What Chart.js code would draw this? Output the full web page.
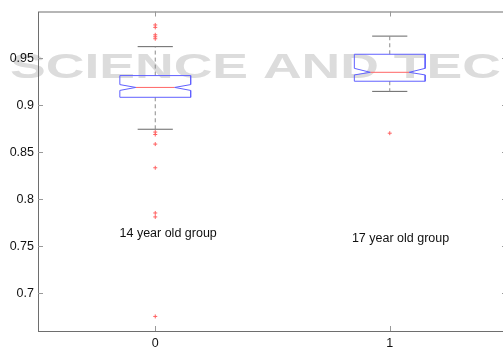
<!DOCTYPE html>
<html>
<head>
<meta charset="utf-8">
<script src="https://cdn.jsdelivr.net/npm/chart.js@4.4.1/dist/chart.umd.min.js"></script>
<style>
  html, body { margin: 0; padding: 0; background: #fff; overflow: hidden; }
  #wrap { width: 512px; height: 347px; }
</style>
</head>
<body>
<div id="wrap"><canvas id="boxChart" width="512" height="347"></canvas></div>
<script>
// group positions on the x axis and their notes
const groups = [0, 1];
const groupLabels = ["14 year old group", "17 year old group"];

// box statistics per group
const whiskerLow = [0.8747, 0.9150];
const q1 = [0.9087, 0.9258];
const notchLow = [0.9160, 0.9325];
const median = [0.9192, 0.9353];
const notchHigh = [0.9222, 0.9395];
const q3 = [0.9318, 0.9545];
const whiskerHigh = [0.9626, 0.9738];

// outliers per group
const outliers14 = [0.9857, 0.9831, 0.9752, 0.9731, 0.9710, 0.8717, 0.8691, 0.8589, 0.8337, 0.7856, 0.7814, 0.6755];
const outliers17 = [0.8705];

// axes
const xTicks = [0, 1];
const yTicks = [0.7, 0.75, 0.8, 0.85, 0.9, 0.95];

// where the group notes sit (data units)
const noteX = [0.055, 1.046];
const noteY = [0.7638, 0.7585];

const BOX_HALF = 0.151;
const NOTCH_HALF = 0.083;
const CAP_HALF = 0.075;
const FONT = "'Liberation Sans', Arial, Helvetica, sans-serif";

function line(points, color, dash, width) {
    return {
        type: "line",
        data: points,
        borderColor: color,
        borderWidth: width || 1,
        borderDash: dash || [],
        pointRadius: 0,
        fill: false,
        tension: 0,
    };
}

// build the drawn pieces for one group from the arrays above
function groupDatasets(i, outs) {
    const x = groups[i];
    const sets = [];
    // notched box outline
    sets.push(line([
        { x: x - BOX_HALF, y: q3[i] },
        { x: x + BOX_HALF, y: q3[i] },
        { x: x + BOX_HALF, y: notchHigh[i] },
        { x: x + NOTCH_HALF, y: median[i] },
        { x: x + BOX_HALF, y: notchLow[i] },
        { x: x + BOX_HALF, y: q1[i] },
        { x: x - BOX_HALF, y: q1[i] },
        { x: x - BOX_HALF, y: notchLow[i] },
        { x: x - NOTCH_HALF, y: median[i] },
        { x: x - BOX_HALF, y: notchHigh[i] },
        { x: x - BOX_HALF, y: q3[i] },
    ], "#6060ff"));
    // median
    sets.push(line([
        { x: x - NOTCH_HALF, y: median[i] },
        { x: x + NOTCH_HALF, y: median[i] },
    ], "#ff6666"));
    // whiskers
    sets.push(line([{ x: x, y: q3[i] }, { x: x, y: whiskerHigh[i] }], "#8a8a8a", [4, 3]));
    sets.push(line([{ x: x, y: q1[i] }, { x: x, y: whiskerLow[i] }], "#8a8a8a", [4, 3]));
    // caps
    sets.push(line([{ x: x - CAP_HALF, y: whiskerHigh[i] }, { x: x + CAP_HALF, y: whiskerHigh[i] }], "#666"));
    sets.push(line([{ x: x - CAP_HALF, y: whiskerLow[i] }, { x: x + CAP_HALF, y: whiskerLow[i] }], "#666"));
    // outliers
    sets.push({
        type: "scatter",
        data: outs.map((v) => ({ x: x, y: v })),
        pointStyle: "cross",
        pointRadius: 2,
        borderColor: "#ff6060",
        borderWidth: 1,
        showLine: false,
    });
    return sets;
}

// faint background watermark
const watermark = {
    id: "watermark",
    beforeDraw(chart) {
        const ctx = chart.ctx;
        ctx.save();
        ctx.fillStyle = "#dcdcdc";
        ctx.font = "bold 35px " + FONT;
        ctx.textBaseline = "alphabetic";
        ctx.translate(10, 78);
        ctx.scale(1.53, 1);
        ctx.fillText("SCIENCE AND TECHNOLOGY", 0, 0);
        ctx.restore();
    },
};

// axes box with inward ticks, plus group notes
const frame = {
    id: "frame",
    afterDraw(chart) {
        const ctx = chart.ctx;
        const a = chart.chartArea;
        const xs = chart.scales.x;
        const ys = chart.scales.y;
        ctx.save();
        ctx.strokeStyle = "#6e6e6e";
        ctx.lineWidth = 1;
        ctx.strokeRect(a.left + 0.5, a.top + 0.5, a.right - a.left, a.bottom - a.top);
        ctx.strokeStyle = "#999";
        ctx.beginPath();
        yTicks.forEach((t) => {
            const py = Math.round(ys.getPixelForValue(t)) + 0.5;
            ctx.moveTo(a.left, py); ctx.lineTo(a.left + 5, py);
            ctx.moveTo(a.right - 5, py); ctx.lineTo(a.right, py);
        });
        xTicks.forEach((t) => {
            const px = Math.round(xs.getPixelForValue(t)) + 0.5;
            ctx.moveTo(px, a.bottom); ctx.lineTo(px, a.bottom - 5);
            ctx.moveTo(px, a.top); ctx.lineTo(px, a.top + 5);
        });
        ctx.stroke();

        ctx.fillStyle = "#111";
        ctx.font = "12.5px " + FONT;
        ctx.textAlign = "center";
        ctx.textBaseline = "middle";
        groupLabels.forEach((label, i) => {
            ctx.fillText(label, xs.getPixelForValue(noteX[i]), ys.getPixelForValue(noteY[i]));
        });
        ctx.restore();
    },
};

const datasets = [].concat(groupDatasets(0, outliers14), groupDatasets(1, outliers17));

new Chart(document.getElementById("boxChart"), {
    type: "scatter",
    data: { datasets: datasets },
    options: {
        responsive: false,
        animation: false,
        layout: { padding: { top: 9, right: 5, left: 0, bottom: 0 } },
        plugins: {
            legend: { display: false },
            tooltip: { enabled: false },
        },
        scales: {
            x: {
                type: "linear",
                min: -0.5,
                max: 1.5,
                grid: { display: false, drawTicks: false },
                border: { display: false },
                afterBuildTicks: (scale) => { scale.ticks = xTicks.map((v) => ({ value: v })); },
                afterFit: (scale) => { scale.height = 16; },
                ticks: {
                    padding: 5,
                    color: "#111",
                    font: { family: FONT, size: 12.5 },
                    callback: (v) => String(v),
                },
            },
            y: {
                type: "linear",
                min: 0.66,
                max: 1.0,
                grid: { display: false, drawTicks: false },
                border: { display: false },
                afterBuildTicks: (scale) => { scale.ticks = yTicks.map((v) => ({ value: v })); },
                afterFit: (scale) => { scale.width = 38; },
                ticks: {
                    padding: 4,
                    color: "#111",
                    font: { family: FONT, size: 12.5 },
                    callback: (v) => String(v),
                },
            },
        },
    },
    plugins: [watermark, frame],
});
</script>
</body>
</html>
